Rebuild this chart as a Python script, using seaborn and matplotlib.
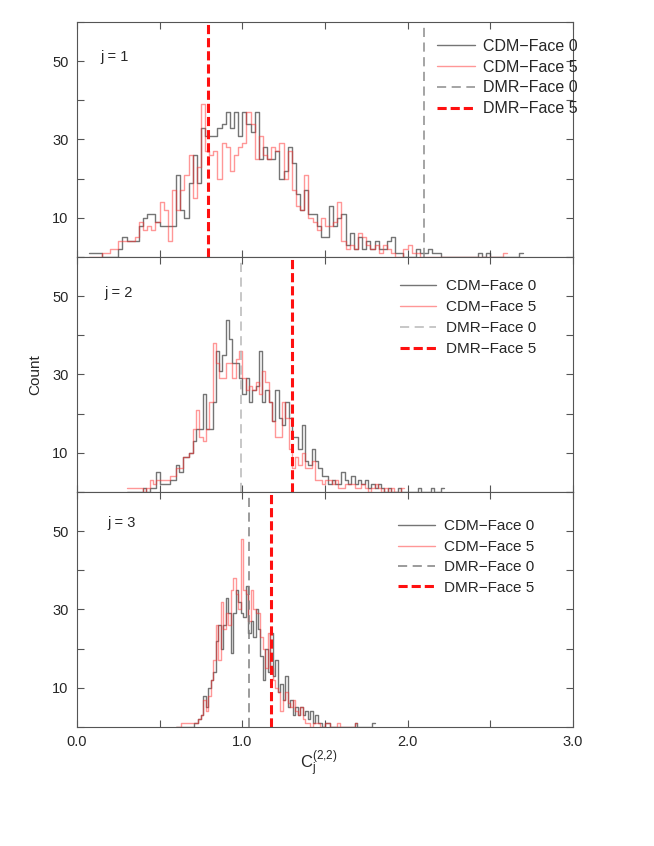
import numpy as np
import pandas as pd
import seaborn as sns
import matplotlib.pyplot as plt
from matplotlib.lines import Line2D
from matplotlib.ticker import MultipleLocator, FuncFormatter

# histogram binning per panel (first edge, bin width)
bin_start = [0.075, 0.30, 0.60]
bin_width = [0.025, 0.02, 0.015]

# counts per bin
cdm_face0_j1 = [1, 1, 1, 0, 0, 0, 0, 2, 5, 4, 4, 4, 8, 10, 11, 11, 9, 8, 8, 8, 8, 21, 12, 10, 19, 26,
                19, 33, 31, 31, 31, 33, 34, 37, 33, 37, 31, 37, 34, 32, 37, 25, 28, 25, 25, 27, 20, 22,
                28, 24, 16, 12, 17, 11, 11, 8, 5, 5, 13, 8, 10, 11, 3, 6, 2, 5, 2, 4, 2, 4, 2, 2, 4, 5,
                1, 1, 0, 0, 0, 2, 1, 1, 2, 1, 1, 0, 0, 0, 0, 0, 0, 0, 0, 0, 1, 0, 1, 0, 0, 0, 0, 0, 0,
                0, 1]
cdm_face5_j1 = [0, 0, 0, 1, 1, 2, 2, 4, 4, 4, 4, 5, 9, 7, 8, 7, 9, 14, 12, 4, 17, 12, 17, 21, 26, 15,
                23, 39, 27, 26, 27, 20, 29, 28, 22, 26, 28, 29, 37, 34, 25, 31, 26, 25, 28, 27, 29, 20,
                27, 17, 13, 12, 21, 10, 9, 7, 10, 8, 8, 9, 14, 4, 2, 3, 2, 6, 5, 3, 2, 3, 1, 3, 2, 1,
                0, 0, 2, 3, 1, 1, 0, 0, 0, 0, 0, 0, 0, 0, 0, 0, 0, 0, 0, 0, 0, 0, 0, 0, 0, 0, 1]

cdm_face0_j2 = [0, 0, 0, 0, 0, 1, 0, 1, 1, 5, 2, 2, 2, 3, 3, 7, 5, 9, 9, 10, 13, 16, 16, 25, 16, 16,
                23, 36, 31, 35, 44, 39, 33, 33, 29, 25, 29, 23, 26, 27, 36, 23, 26, 23, 18, 26, 19, 17,
                23, 19, 14, 14, 11, 17, 8, 7, 11, 8, 6, 4, 4, 2, 3, 2, 2, 5, 3, 2, 4, 2, 3, 2, 3, 1,
                2, 1, 2, 1, 0, 1, 0, 0, 1, 0, 0, 0, 0, 0, 1, 0, 0, 0, 1, 0, 0, 1]
cdm_face5_j2 = [1, 1, 1, 1, 1, 0, 1, 3, 2, 3, 3, 3, 3, 4, 4, 6, 6, 9, 9, 10, 16, 21, 14, 13, 16, 23,
                38, 33, 29, 29, 33, 33, 29, 34, 36, 29, 26, 27, 26, 28, 25, 31, 28, 23, 18, 14, 14, 23,
                19, 11, 6, 9, 7, 10, 6, 6, 8, 3, 3, 2, 3, 3, 2, 3, 1, 1, 2, 2, 2, 1, 1, 2, 1, 0, 1, 2,
                1, 0, 1, 0, 1, 0, 0, 1]

cdm_face0_j3 = [0, 0, 0, 0, 0, 0, 0, 1, 1, 2, 3, 8, 5, 10, 12, 14, 22, 26, 20, 26, 33, 29, 19, 29, 35,
                32, 29, 28, 36, 24, 27, 23, 30, 25, 18, 12, 20, 14, 24, 13, 17, 9, 11, 7, 13, 5, 7, 3,
                5, 3, 5, 3, 4, 2, 4, 1, 3, 1, 1, 0, 1, 1, 0, 0, 0, 0, 0, 0, 0, 0, 0, 0, 1, 0, 0, 0, 0,
                0, 0, 1]
cdm_face5_j3 = [0, 0, 1, 1, 1, 1, 1, 1, 1, 2, 3, 7, 4, 8, 12, 17, 26, 17, 32, 25, 29, 26, 35, 38, 34,
                30, 48, 35, 34, 27, 35, 30, 29, 29, 23, 20, 15, 24, 15, 12, 10, 9, 4, 7, 9, 6, 5, 7, 4,
                3, 5, 2, 1, 1, 0, 1, 1, 1, 0, 0, 1, 1, 0, 0, 0, 1, 0, 0, 0, 0, 0, 0, 1]

cdm_face0 = [cdm_face0_j1, cdm_face0_j2, cdm_face0_j3]
cdm_face5 = [cdm_face5_j1, cdm_face5_j2, cdm_face5_j3]

# DMR values (vertical dashed lines)
dmr_face0 = [2.10, 0.99, 1.04]
dmr_face5 = [0.79, 1.30, 1.175]

panel_labels = ["j = 1", "j = 2", "j = 3"]
legend_labels = ["CDM\u2212Face 0", "CDM\u2212Face 5", "DMR\u2212Face 0", "DMR\u2212Face 5"]

sns.set_style("ticks")
plt.rcParams["font.family"] = ["Liberation Sans", "DejaVu Sans"]
plt.rcParams["mathtext.fontset"] = "custom"
plt.rcParams["mathtext.rm"] = "Liberation Sans"
plt.rcParams["mathtext.it"] = "Liberation Sans"

fig = plt.figure(figsize=(6.54, 8.46), dpi=100)
gs = fig.add_gridspec(3, 1, left=0.1177, right=0.876, top=0.974, bottom=0.1407, hspace=0)
axes = [fig.add_subplot(gs[i]) for i in range(3)]

gray_hist = "#3a3a3a"
red_hist = "#ff3030"
gray_dash = ["#8c8c8c", "#b8b8b8", "#808080"]
red_dash = "#ff1010"

legend_x = [0.726, 0.651, 0.647]
legend_y = [0.928, 0.905, 0.883]
legend_size = [11.5, 11, 11]
legend_spacing = [0.36, 0.45, 0.42]
legend_pad = [0.5, 0.6, 0.6]
label_pos = [(0.048, 0.851), (0.056, 0.847), (0.062, 0.868)]

for i, ax in enumerate(axes):
    for counts, color, alpha in [(cdm_face0[i], gray_hist, 0.7), (cdm_face5[i], red_hist, 0.5)]:
        edges = bin_start[i] + bin_width[i] * np.arange(len(counts) + 1)
        df = pd.DataFrame({"c": (edges[:-1] + edges[1:]) / 2, "n": counts})
        sns.histplot(data=df, x="c", weights="n", bins=list(edges), element="step", fill=False,
                     color=color, alpha=alpha, linewidth=1.0, ax=ax)

    ax.axvline(dmr_face0[i], color=gray_dash[i], ls=(0, (6, 3.6)), lw=1.1)
    ax.axvline(dmr_face5[i], color=red_dash, ls=(0, (3, 1.3)), lw=2.2)

    ax.set_xlim(0, 3)
    ax.set_ylim(0, 60)
    ax.set_xlabel("")
    ax.set_ylabel("")
    ax.xaxis.set_major_locator(MultipleLocator(0.5))
    ax.yaxis.set_major_locator(MultipleLocator(10))
    ax.xaxis.set_major_formatter(FuncFormatter(
        lambda v, p: f"{v:.1f}" if abs(v - round(v)) < 1e-6 else ""))
    ax.yaxis.set_major_formatter(FuncFormatter(
        lambda v, p: f"{int(round(v))}" if int(round(v)) in (10, 30, 50) else ""))
    ax.tick_params(direction="in", top=True, right=True, length=5, width=0.8,
                   color="#555555", labelsize=10.5, pad=6)
    if i < 2:
        ax.tick_params(labelbottom=False)
    for s in ax.spines.values():
        s.set_color("#555555")
        s.set_linewidth(0.8)

    ax.text(label_pos[i][0], label_pos[i][1], panel_labels[i], transform=ax.transAxes,
            va="center", ha="left", fontsize=10.5)

    handles = [Line2D([], [], color=gray_hist, alpha=0.7, lw=1.0),
               Line2D([], [], color=red_hist, alpha=0.5, lw=1.0),
               Line2D([], [], color=gray_dash[i], ls=(0, (6, 3.6)), lw=1.1),
               Line2D([], [], color=red_dash, ls=(0, (3, 1.3)), lw=2.2)]
    ax.legend(handles, legend_labels, loc="upper left", bbox_to_anchor=(legend_x[i], legend_y[i]),
              frameon=False, fontsize=legend_size[i], handlelength=2.4,
              handletextpad=legend_pad[i], labelspacing=legend_spacing[i],
              borderpad=0, borderaxespad=0)

fig.text(35 / 654, 1 - 375 / 846, "Count", rotation=90, ha="center", va="center", fontsize=11)
fig.text(0.488, 1 - 764 / 846, r"$\mathrm{C_j^{(2{,}2)}}$", ha="center", va="center", fontsize=12)

fig.savefig("out.png", dpi=100)
